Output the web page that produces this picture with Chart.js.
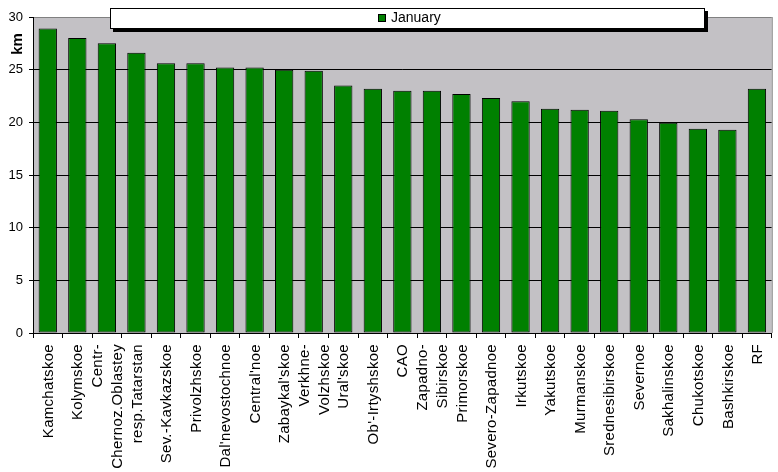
<!DOCTYPE html>
<html>
<head>
<meta charset="utf-8">
<script src="https://cdn.jsdelivr.net/npm/chart.js@4.4.0/dist/chart.umd.min.js"></script>
<style>
  html, body { margin: 0; padding: 0; background: #fff; }
  #wrap { width: 778px; height: 472px; }
</style>
</head>
<body>
<div id="wrap"><canvas id="kmChart"></canvas></div>
<script>
// categories (multi-line labels as in the original)
const regions = [
    'Kamchatskoe', 'Kolymskoe', ['Centr-', 'Chernoz.Oblastey'], 'resp.Tatarstan',
    'Sev.-Kavkazskoe', 'Privolzhskoe', "Dal'nevostochnoe", "Central'noe",
    "Zabaykal'skoe", ['Verkhne-', 'Volzhskoe'], "Ural'skoe", "Ob'-Irtyshskoe",
    'CAO', ['Zapadno-', 'Sibirskoe'], 'Primorskoe', 'Severo-Zapadnoe',
    'Irkutskoe', 'Yakutskoe', 'Murmanskoe', 'Srednesibirskoe',
    'Severnoe', 'Sakhalinskoe', 'Chukotskoe', 'Bashkirskoe', 'RF'
];
const januaryKm = [
    28.9, 28.0, 27.5, 26.6,
    25.6, 25.6, 25.2, 25.2,
    25.0, 24.9, 23.5, 23.2,
    23.0, 23.0, 22.7, 22.3,
    22.0, 21.3, 21.2, 21.1,
    20.3, 19.95, 19.4, 19.3, 23.2
];
const yMin = 0;
const yMax = 30;
const yStep = 5;
const seriesName = 'January';
const axisTitle = 'km';

const FONT = "'Liberation Sans', Arial, sans-serif";
const PLOT_BG = '#c3c1c5';
const BAR_GREEN = '#008000';

// plot area background + right border
const plotFrame = {
    id: 'plotFrame',
    beforeDraw: (chart) => {
        const { ctx, chartArea: a } = chart;
        ctx.save();
        ctx.fillStyle = '#fff';
        ctx.fillRect(0, 0, chart.width, chart.height);
        ctx.fillStyle = PLOT_BG;
        ctx.fillRect(a.left, a.top, a.right - a.left, a.bottom - a.top);
        ctx.restore();
    },
    afterDraw: (chart) => {
        const { ctx, chartArea: a } = chart;
        ctx.save();
        ctx.strokeStyle = '#808080';
        ctx.lineWidth = 1;
        ctx.beginPath();
        ctx.moveTo(a.right + 0.5, a.top);
        ctx.lineTo(a.right + 0.5, a.bottom);
        ctx.stroke();
        ctx.restore();
    }
};

// vertical category labels, multi-line ones centred on their tick
// (Chart.js puts the first line on the tick instead)
const xLabels = {
    id: 'xLabels',
    afterDraw: (chart) => {
        const { ctx, chartArea: a } = chart;
        const xs = chart.scales.x;
        const lineH = 19.5;
        ctx.save();
        ctx.font = '15px ' + FONT;
        ctx.fillStyle = '#000';
        ctx.textAlign = 'right';
        ctx.textBaseline = 'middle';
        if ('letterSpacing' in ctx) ctx.letterSpacing = '0.3px';
        chart.data.labels.forEach((lbl, i) => {
            const lines = Array.isArray(lbl) ? lbl : [lbl];
            const px = xs.getPixelForTick(i);
            lines.forEach((ln, j) => {
                const cx = px + (j - (lines.length - 1) / 2) * lineH;
                ctx.save();
                ctx.translate(cx + 1, a.bottom + 11);
                ctx.rotate(-Math.PI / 2);
                ctx.fillText(ln, 0, 0);
                ctx.restore();
            });
        });
        ctx.restore();
    }
};

// axis title near the top + boxed legend overlapping the plot
const extras = {
    id: 'extras',
    afterDraw: (chart) => {
        const ctx = chart.ctx;
        ctx.save();
        // "km"
        ctx.translate(18, 44);
        ctx.rotate(-Math.PI / 2);
        ctx.font = 'bold 15px ' + FONT;
        ctx.fillStyle = '#000';
        ctx.textAlign = 'center';
        ctx.textBaseline = 'middle';
        ctx.fillText(axisTitle, 0, 0);
        ctx.restore();

        // legend box with shadow
        const ds = chart.data.datasets[0];
        ctx.save();
        ctx.fillStyle = '#000';
        ctx.fillRect(113, 11, 595, 21);
        ctx.fillStyle = '#fff';
        ctx.fillRect(110, 8, 595, 21);
        ctx.strokeStyle = '#000';
        ctx.lineWidth = 1;
        ctx.strokeRect(110.5, 8.5, 594, 20);
        ctx.fillStyle = ds.backgroundColor;
        ctx.fillRect(378, 14, 8, 8);
        ctx.strokeRect(378.5, 14.5, 7, 7);
        ctx.fillStyle = '#000';
        ctx.font = '14px ' + FONT;
        ctx.textBaseline = 'middle';
        ctx.fillText(ds.label, 391, 18.5);
        ctx.restore();
    }
};

new Chart(document.getElementById('kmChart'), {
    type: 'bar',
    data: {
        labels: regions,
        datasets: [{
            label: seriesName,
            data: januaryKm,
            backgroundColor: BAR_GREEN,
            borderColor: '#000',
            borderWidth: 1,
            borderSkipped: false,
            barPercentage: 0.62,
            categoryPercentage: 1.0
        }]
    },
    options: {
        responsive: true,
        maintainAspectRatio: false,
        animation: false,
        layout: { padding: { top: 17, right: 3, left: 0, bottom: 0 } },
        plugins: {
            legend: { display: false },
            tooltip: { enabled: false }
        },
        scales: {
            x: {
                afterFit: (scale) => { scale.height = 139; },
                grid: { drawOnChartArea: false, drawTicks: true, tickLength: 5, color: '#000', offset: true },
                border: { color: '#000' },
                ticks: {
                    autoSkip: false,
                    minRotation: 90,
                    maxRotation: 90,
                    color: 'rgba(0,0,0,0)',
                    font: { family: FONT, size: 15 }
                }
            },
            y: {
                min: yMin,
                max: yMax,
                afterFit: (scale) => { scale.width = 33; },
                grid: {
                    color: (c) => (c.tick && c.tick.value === yMax) ? '#808080' : '#000',
                    tickColor: '#000',
                    tickLength: 4
                },
                border: { color: '#000' },
                ticks: {
                    stepSize: yStep,
                    padding: 6,
                    color: '#000',
                    font: { family: FONT, size: 13 }
                }
            }
        }
    },
    plugins: [plotFrame, xLabels, extras]
});
</script>
</body>
</html>
